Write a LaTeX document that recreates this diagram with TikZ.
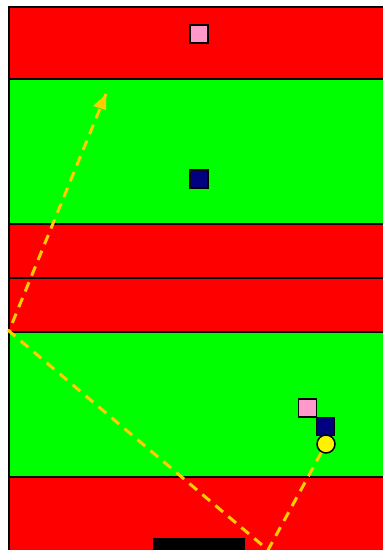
\documentclass[tikz,border=0pt]{standalone}
\usetikzlibrary{arrows.meta}
\definecolor{bandred}{RGB}{255,0,0}
\definecolor{bandgreen}{RGB}{0,255,0}
\definecolor{pinkq}{RGB}{255,153,204}
\definecolor{navyq}{RGB}{0,0,128}
\definecolor{pathc}{RGB}{255,204,0}
\tikzset{
  band/.style={draw=black, line width=1.8pt},
  piece/.style={draw=black, line width=1.8pt, minimum size=18pt, inner sep=0pt, rectangle},
  ball/.style={draw=black, line width=1.5pt, fill=yellow, circle, minimum size=18pt, inner sep=0pt},
  route/.style={draw=pathc, line width=3pt, dash pattern=on 10pt off 7pt},
}
\begin{document}
\begin{tikzpicture}[x=1pt,y=-1pt]
\useasboundingbox (0,0) rectangle (383,550);
\clip (0,0) rectangle (383,550);
\fill[white] (0,0) rectangle (383,550);
\draw[band, fill=bandred]   (9,7)   rectangle (390,79);
\draw[band, fill=bandgreen] (9,79)  rectangle (390,224);
\draw[band, fill=bandred]   (9,224) rectangle (390,278);
\draw[band, fill=bandred]   (9,278) rectangle (390,332);
\draw[band, fill=bandgreen] (9,332) rectangle (390,477);
\draw[band, fill=bandred]   (9,477) rectangle (390,560);
\fill[black] (153,538) rectangle (245,552);
\node[piece, fill=pinkq] (p1) at (199,34) {};
\node[piece, fill=navyq] (n1) at (199,179) {};
\node[piece, fill=pinkq] (p2) at (307.5,408) {};
\node[piece, fill=navyq] (n2) at (325.5,426.5) {};
\node[ball] (b) at (326,444) {};
\coordinate (c1) at (268,550);
\coordinate (c2) at (9,331);
\coordinate (c3) at (106,94);
\draw[route] (b) -- (c1) -- (c2) -- (c3);
\fill[pathc] (c3) -- ++(-13,12) -- ++(13,4) -- cycle;
\end{tikzpicture}
\end{document}
